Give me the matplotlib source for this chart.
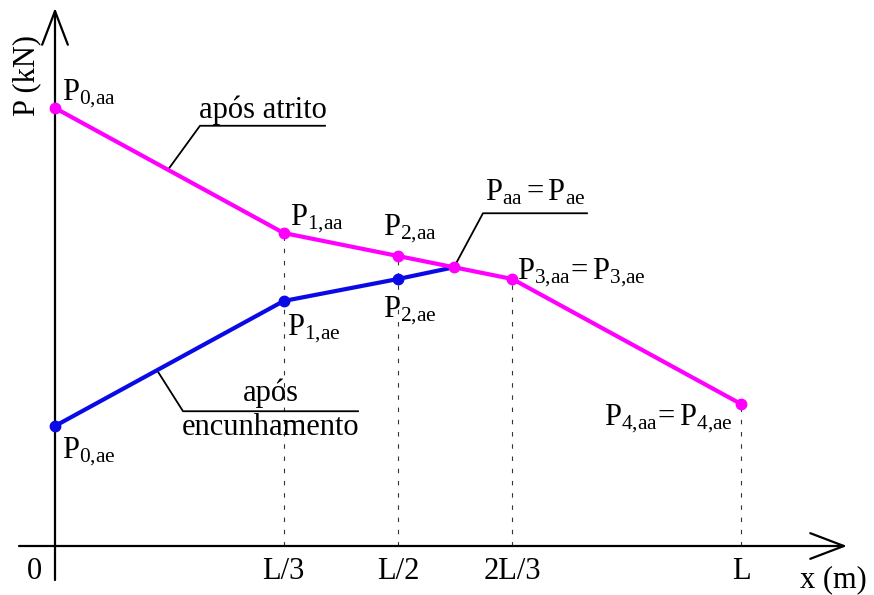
import matplotlib
matplotlib.use("Agg")
import matplotlib.pyplot as plt
import numpy as np

plt.rcParams['font.family'] = 'Liberation Serif'
plt.rcParams['mathtext.fontset'] = 'custom'
plt.rcParams['mathtext.rm'] = 'Liberation Serif'
plt.rcParams['mathtext.it'] = 'Liberation Serif:italic'
plt.rcParams['mathtext.bf'] = 'Liberation Serif:bold'

# abscissas in fractions of L, forces in arbitrary units
x_aa = [0, 1/3, 1/2, 2/3, 1]
p_aa = [438, 313, 290, 267, 142]
x_ae = [0, 1/3, 1/2]
p_ae = [120, 245, 267]
x_cross = 0.5816          # where both curves meet
x_ticks = [1/3, 1/2, 2/3, 1]
tick_labels = ['L/3', 'L/2', '2L/3', 'L']

aa_labels = [r'$\mathrm{P}_{\mathrm{0{,}aa}}$', r'$\mathrm{P}_{\mathrm{1{,}aa}}$',
             r'$\mathrm{P}_{\mathrm{2{,}aa}}$',
             r'$\mathrm{P}_{\mathrm{3{,}aa}}\!=\mathrm{P}_{\mathrm{3{,}ae}}$',
             r'$\mathrm{P}_{\mathrm{4{,}aa}}\!=\mathrm{P}_{\mathrm{4{,}ae}}$']
ae_labels = [r'$\mathrm{P}_{\mathrm{0{,}ae}}$', r'$\mathrm{P}_{\mathrm{1{,}ae}}$',
             r'$\mathrm{P}_{\mathrm{2{,}ae}}$']

PX = 686  # pixels per L
FS = 22
MAG = '#ff00ff'
BLUE = '#0a0ae6'

p_cross = np.interp(x_cross, x_aa, p_aa)

fig = plt.figure(figsize=(8.74, 5.95), dpi=100)
ax = fig.add_axes([0, 0, 1, 1])
ax.set_xlim(-55 / PX, (874 - 55) / PX)
ax.set_ylim(-49, 546)
ax.axis('off')

# axes with open arrow heads
arrow = dict(arrowstyle='->,head_length=1.1,head_width=0.42', lw=1.6,
             color='k', shrinkA=0, shrinkB=0, mutation_scale=22)
ax.annotate('', xy=(0, 538), xytext=(0, -34), arrowprops=arrow)
ax.annotate('', xy=((847 - 55) / PX, 0), xytext=((19 - 55) / PX, 0),
            arrowprops=arrow)

# dashed guides down to the x axis
for xt in x_ticks:
    top = np.interp(xt, x_aa, p_aa)
    ax.plot([xt, xt], [0, top], color='#333333', lw=0.8,
            linestyle=(0, (4, 7)), zorder=1)

# curves
xa = x_ae + [x_cross]
pa = p_ae + [p_cross]
ax.plot(xa, pa, color=BLUE, lw=3, zorder=3, solid_capstyle='round')
ax.plot(x_ae, p_ae, 'o', color=BLUE, ms=7.5, zorder=4)
ax.plot(x_aa, p_aa, color=MAG, lw=3, zorder=3, solid_capstyle='round')
ax.plot(x_aa + [x_cross], p_aa + [p_cross], 'o', color=MAG, ms=7.5, zorder=5)

# point labels (offsets in pixels)
aa_off = [(7, 8), (6, 8), (-15, 21), (5, 0), (-8, -21)]
for x, p, lab, off in zip(x_aa, p_aa, aa_labels, aa_off):
    ax.annotate(lab, (x, p), xytext=off, textcoords='offset pixels',
                fontsize=FS, ha='right' if x == 1 else 'left', va='baseline')
ae_off = [(7, -32), (3, -34), (-15, -38)]
for x, p, lab, off in zip(x_ae, p_ae, ae_labels, ae_off):
    ax.annotate(lab, (x, p), xytext=off, textcoords='offset pixels',
                fontsize=FS, ha='left', va='baseline')


def leader(x0, y0, dx, dy, run):
    xs = [x0, x0 + dx / PX, x0 + (dx + run) / PX]
    ys = [y0, y0 + dy, y0 + dy]
    ax.plot(xs, ys, color='k', lw=1.3, zorder=2)
    return x0 + (dx + run / 2) / PX, y0 + dy


x1 = 0.1647
cx, cy = leader(x1, np.interp(x1, x_aa, p_aa), 32, 44, 125)
ax.text(cx, cy + 8, 'após atrito', fontsize=FS, ha='center', va='baseline')

cx, cy = leader(x_cross, p_cross, 29, 54, 104)
ax.text(cx, cy + 13, r'$\mathrm{P}_{\mathrm{aa}} = \mathrm{P}_{\mathrm{ae}}$',
        fontsize=FS, ha='center', va='baseline')

x2 = 0.1487
cx, cy = leader(x2, np.interp(x2, x_ae, p_ae), 26, -41, 175)
ax.text(cx, cy + 10, 'após', fontsize=FS, ha='center', va='baseline')
ax.text(cx, cy - 24, 'encunhamento', fontsize=FS, ha='center', va='baseline')

# axis titles and tick labels
ax.text(-28 / PX, 471, 'P (kN)', fontsize=FS, rotation=90, ha='center',
        va='center')
ax.text(-21 / PX, -33, '0', fontsize=FS, ha='center', va='baseline')
for xt, lab in zip(x_ticks, tick_labels):
    ax.text(xt, -33, lab, fontsize=FS, ha='center', va='baseline')
ax.text((833 - 55) / PX, -41, 'x (m)', fontsize=FS, ha='center', va='baseline')

fig.savefig('out.png', dpi=100)
